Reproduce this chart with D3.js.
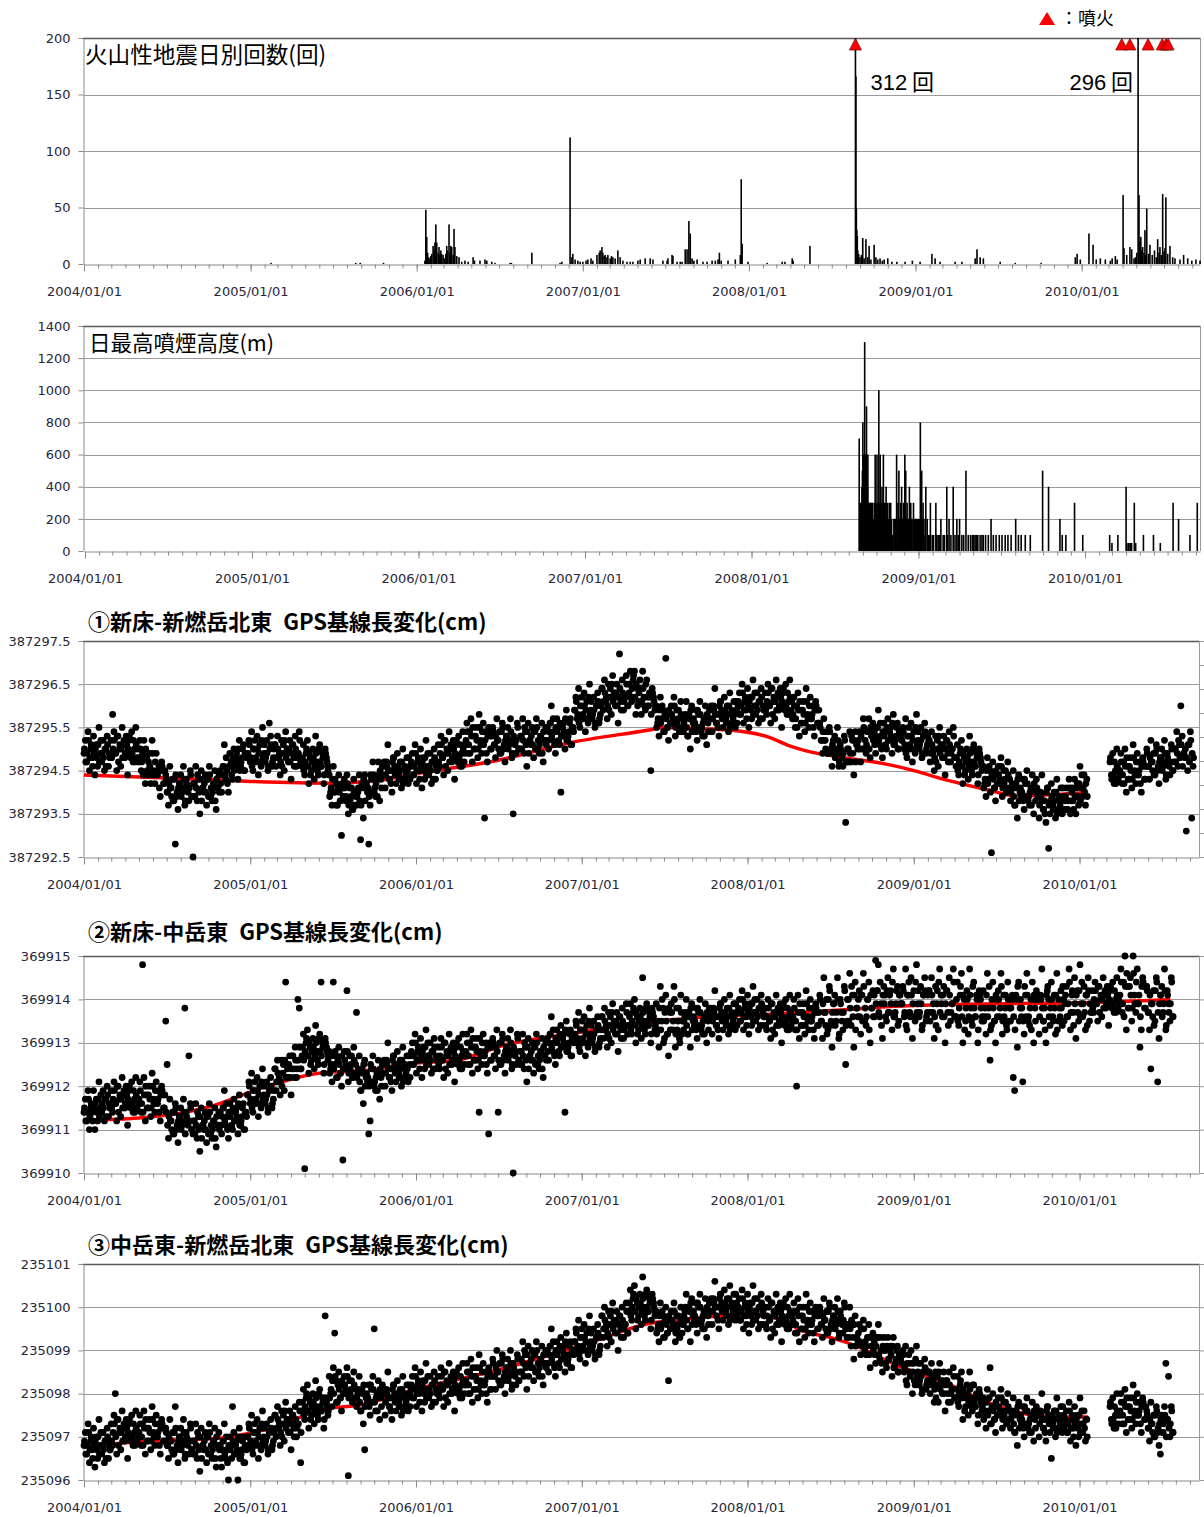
<!DOCTYPE html>
<html>
<head>
<meta charset="utf-8">
<script src="https://cdn.jsdelivr.net/npm/d3@7"></script>
<style>
body { margin: 0; background: #fff; }
.ttl { font-family: "Noto Sans CJK JP", sans-serif; fill: #000; }
</style>
</head>
<body>
<svg id="chart" width="1204" height="1517"></svg>
<script>
// ---- data ----
// volcanic earthquakes per day [date, count]
const quakeDays = [
  ["2005-02-15",1],["2005-08-20",1],["2005-08-30",1],["2005-10-20",1],
  ["2006-01-19",3],["2006-01-21",48],["2006-01-23",24],["2006-01-25",10],["2006-01-27",6],["2006-01-30",5],
  ["2006-02-01",7],["2006-02-03",9],["2006-02-06",16],["2006-02-08",12],["2006-02-10",19],["2006-02-12",35],
  ["2006-02-14",19],["2006-02-17",10],["2006-02-19",15],["2006-02-21",8],["2006-02-23",12],["2006-02-25",9],
  ["2006-02-28",8],["2006-03-03",5],["2006-03-06",9],["2006-03-08",16],["2006-03-10",12],["2006-03-13",35],
  ["2006-03-15",10],["2006-03-17",16],["2006-03-19",15],["2006-03-22",8],["2006-03-24",31],["2006-03-26",15],
  ["2006-03-30",7],["2006-04-04",6],["2006-04-10",2],["2006-04-17",3],["2006-04-24",2],["2006-05-05",6],
  ["2006-05-08",3],["2006-05-20",3],["2006-05-31",4],["2006-06-04",3],["2006-06-15",2],["2006-06-22",1],
  ["2006-07-25",1],["2006-07-28",1],["2006-09-11",10],["2006-11-12",1],["2006-11-16",2],
  ["2006-12-04",112],["2006-12-08",6],["2006-12-10",9],["2006-12-15",4],["2006-12-21",3],["2006-12-26",2],
  ["2007-01-01",2],["2007-01-08",3],["2007-01-12",4],["2007-01-19",5],["2007-01-23",3],["2007-02-01",8],
  ["2007-02-06",10],["2007-02-08",12],["2007-02-12",15],["2007-02-14",10],["2007-02-17",7],["2007-02-19",8],
  ["2007-02-23",6],["2007-02-25",8],["2007-03-02",5],["2007-03-05",7],["2007-03-08",6],["2007-03-13",5],
  ["2007-03-19",12],["2007-03-24",6],["2007-03-30",3],["2007-04-08",2],["2007-04-15",2],["2007-04-21",2],
  ["2007-05-02",3],["2007-05-07",4],["2007-05-18",5],["2007-05-29",5],["2007-06-04",4],["2007-06-26",3],
  ["2007-07-05",3],["2007-07-07",5],["2007-07-16",8],["2007-07-18",7],["2007-07-27",2],["2007-08-03",2],
  ["2007-08-07",2],["2007-08-14",13],["2007-08-18",13],["2007-08-22",38],["2007-08-25",27],["2007-08-29",5],
  ["2007-09-02",3],["2007-09-09",4],["2007-09-22",2],["2007-10-01",2],["2007-10-12",3],["2007-10-19",3],
  ["2007-10-25",4],["2007-10-28",10],["2007-11-01",3],["2007-11-16",3],["2007-12-02",4],["2007-12-13",8],
  ["2007-12-15",75],["2007-12-17",18],["2007-12-30",2],["2008-02-10",1],["2008-03-14",2],["2008-03-20",2],
  ["2008-04-05",5],["2008-04-07",3],["2008-05-14",16],
  ["2008-08-22",312],["2008-08-23",166],["2008-08-24",49],["2008-08-25",30],["2008-08-26",25],["2008-08-27",12],
  ["2008-08-29",9],["2008-09-01",6],["2008-09-04",8],["2008-09-07",23],["2008-09-10",5],["2008-09-14",22],
  ["2008-09-18",6],["2008-09-21",16],["2008-09-25",4],["2008-10-02",17],["2008-10-06",6],["2008-10-10",4],
  ["2008-10-15",5],["2008-10-20",3],["2008-10-24",4],["2008-11-01",5],["2008-11-10",2],["2008-11-21",2],
  ["2008-12-09",2],["2008-12-25",3],["2009-01-11",2],["2009-02-06",9],["2009-02-13",5],["2009-02-24",2],
  ["2009-03-29",2],["2009-04-13",2],["2009-05-12",5],["2009-05-16",13],["2009-05-23",6],["2009-05-30",5],
  ["2009-07-06",2],["2009-08-08",1],["2009-10-04",1],["2009-12-18",6],["2009-12-22",9],["2009-12-29",4],
  ["2010-01-17",27],["2010-01-26",17],["2010-02-02",4],["2010-02-11",5],["2010-02-22",4],["2010-03-05",3],
  ["2010-03-09",5],["2010-03-16",7],["2010-03-20",4],["2010-04-02",61],["2010-04-04",14],["2010-04-10",8],
  ["2010-04-17",15],["2010-04-21",13],["2010-04-26",5],["2010-04-29",6],["2010-05-02",10],["2010-05-05",296],
  ["2010-05-07",61],["2010-05-09",20],["2010-05-11",24],["2010-05-13",12],["2010-05-15",15],["2010-05-18",10],
  ["2010-05-20",30],["2010-05-22",8],["2010-05-24",49],["2010-05-28",9],["2010-05-31",17],["2010-06-05",8],
  ["2010-06-10",12],["2010-06-14",6],["2010-06-17",22],["2010-06-20",10],["2010-06-22",15],["2010-06-25",8],
  ["2010-06-28",62],["2010-07-01",11],["2010-07-03",14],["2010-07-05",59],["2010-07-09",9],["2010-07-14",16],
  ["2010-07-20",6],["2010-07-25",5],["2010-08-05",4],["2010-08-13",8],["2010-08-22",5],["2010-08-31",3],
  ["2010-09-09",4],["2010-09-18",3]
];
const eruptionDates = ["2008-08-22","2010-03-30","2010-04-17","2010-05-27","2010-06-27","2010-07-05","2010-07-10"];
const peakNotes = [["2008-08-22","312"],["2010-05-05","296"]];

// daily maximum plume height (m)
const plumeDays = [
  ["2008-08-24",700],["2008-08-25",300],["2008-08-26",200],["2008-08-27",300],["2008-08-28",200],["2008-08-29",300],
  ["2008-08-30",400],["2008-08-31",500],["2008-09-01",800],["2008-09-02",600],["2008-09-03",300],["2008-09-04",600],
  ["2008-09-05",1300],["2008-09-06",600],["2008-09-07",600],["2008-09-08",300],["2008-09-09",900],["2008-09-10",600],
  ["2008-09-11",400],["2008-09-12",600],["2008-09-13",300],["2008-09-14",200],["2008-09-15",300],["2008-09-17",300],
  ["2008-09-18",300],["2008-09-20",300],["2008-09-22",300],["2008-09-24",200],["2008-09-26",300],["2008-09-28",600],
  ["2008-09-29",300],["2008-09-30",300],["2008-10-02",600],["2008-10-03",200],["2008-10-04",300],["2008-10-06",1000],
  ["2008-10-07",300],["2008-10-09",600],["2008-10-10",200],["2008-10-11",300],["2008-10-13",400],["2008-10-14",300],
  ["2008-10-16",600],["2008-10-17",200],["2008-10-18",300],["2008-10-20",300],["2008-10-22",400],["2008-10-23",200],
  ["2008-10-25",300],["2008-10-27",200],["2008-10-29",300],["2008-10-31",200],["2008-11-01",300],["2008-11-03",200],
  ["2008-11-05",100],["2008-11-08",200],["2008-11-10",200],["2008-11-12",200],["2008-11-14",600],["2008-11-15",200],
  ["2008-11-17",300],["2008-11-19",500],["2008-11-20",200],["2008-11-21",200],["2008-11-23",300],["2008-11-25",400],
  ["2008-11-27",200],["2008-11-29",300],["2008-12-01",200],["2008-12-02",600],["2008-12-04",500],["2008-12-05",200],
  ["2008-12-07",300],["2008-12-09",200],["2008-12-10",200],["2008-12-12",400],["2008-12-13",200],["2008-12-15",300],
  ["2008-12-16",200],["2008-12-18",200],["2008-12-21",300],["2008-12-22",200],["2008-12-24",200],["2008-12-26",200],
  ["2008-12-28",200],["2008-12-30",200],["2009-01-01",200],["2009-01-03",200],["2009-01-05",800],["2009-01-08",500],
  ["2009-01-09",200],["2009-01-11",300],["2009-01-13",200],["2009-01-15",100],["2009-01-17",400],["2009-01-20",200],
  ["2009-01-23",100],["2009-01-25",100],["2009-01-27",300],["2009-01-31",100],["2009-02-03",100],["2009-02-08",300],
  ["2009-02-10",100],["2009-02-13",100],["2009-02-16",100],["2009-02-19",200],["2009-02-24",100],["2009-02-27",100],
  ["2009-03-04",400],["2009-03-06",100],["2009-03-09",200],["2009-03-13",100],["2009-03-18",400],["2009-03-22",100],
  ["2009-03-26",200],["2009-03-29",100],["2009-04-01",200],["2009-04-06",100],["2009-04-10",100],["2009-04-15",500],
  ["2009-04-20",100],["2009-04-25",100],["2009-04-29",100],["2009-05-02",100],["2009-05-05",100],["2009-05-08",100],
  ["2009-05-11",100],["2009-05-16",100],["2009-05-20",100],["2009-05-23",100],["2009-05-28",100],["2009-06-03",100],
  ["2009-06-09",200],["2009-06-14",100],["2009-06-20",100],["2009-06-27",100],["2009-07-03",100],["2009-07-10",100],
  ["2009-07-16",100],["2009-07-23",100],["2009-08-02",200],["2009-08-08",100],["2009-08-14",100],["2009-08-23",100],
  ["2009-09-03",100],["2009-09-30",500],["2009-10-13",400],["2009-11-07",200],["2009-11-12",100],["2009-11-20",100],
  ["2009-12-09",300],["2009-12-27",100],["2010-02-24",100],["2010-03-01",50],["2010-03-14",100],["2010-04-01",400],
  ["2010-04-03",50],["2010-04-07",50],["2010-04-10",50],["2010-04-13",50],["2010-04-19",300],["2010-04-22",50],
  ["2010-05-09",100],["2010-05-31",100],["2010-06-15",50],["2010-07-13",300],["2010-07-25",200],["2010-08-19",100],
  ["2010-09-04",300]
];

// GPS baselines, in mm above each axis minimum (null = no data).
// "A" readings every 3 days from 2004-01-01, "B" readings every 3 days from 2004-01-02.
const gpsStepDays = 3;
const gpsStartA = "2004-01-01";
const gpsStartB = "2004-01-02";

const gps1Base = 387292.5;
const gps1MmA = [
  24,27,22,29,20,25,23,28,19,26,21,30,24,22,27,20,25,28,21,23,
  27,33,29,24,20,28,25,21,30,26,23,28,19,27,24,29,22,25,30,23,
  22,27,20,24,27,17,23,19,24,17,27,20,17,24,19,21,14,22,20,17,
  19,15,12,21,16,18,13,3,14,11,17,19,15,21,12,18,16,13,20,14,
  0,17,21,13,18,10,20,16,15,19,12,18,21,14,13,17,20,11,16,19,
  20,15,21,26,18,20,15,24,22,18,25,21,24,18,27,21,23,26,20,24,
  24,27,22,29,20,25,23,28,19,26,21,30,24,22,27,20,31,28,21,23,
  26,21,28,23,19,27,24,20,29,25,22,27,18,26,23,28,21,24,29,22,
  21,26,19,24,27,17,23,20,25,18,28,22,19,26,21,24,17,25,23,20,
  19,15,12,21,15,17,12,19,13,5,16,18,13,19,10,16,14,11,18,12,
  12,15,19,4,17,9,19,16,15,3,12,18,22,15,14,18,22,13,18,21,
  21,16,22,26,18,20,15,23,21,17,24,19,22,16,25,18,20,23,17,21,
  21,24,19,26,17,22,20,25,16,23,18,27,21,19,24,17,22,25,18,20,
  26,21,28,23,19,27,24,20,29,25,22,27,18,26,23,28,21,24,29,22,
  26,31,24,29,32,22,28,25,30,23,33,27,24,31,9,29,22,30,28,25,
  30,26,23,32,27,29,24,31,25,22,28,30,26,32,23,10,27,24,31,25,
  25,28,32,24,29,21,31,27,26,30,23,29,32,25,24,28,31,22,27,30,
  30,25,31,35,27,29,24,32,30,26,15,28,31,25,34,27,29,32,26,30,
  34,37,32,39,30,35,33,38,29,36,31,40,34,32,37,30,35,38,31,33,
  39,34,41,36,32,40,37,33,42,38,35,40,31,47,36,41,34,37,42,35,
  38,43,36,41,43,33,39,36,41,33,43,37,34,41,35,38,20,39,37,34,
  35,31,28,37,32,34,29,46,30,27,33,35,31,37,28,34,32,29,36,30,
  29,32,36,28,33,25,35,31,30,34,27,33,36,29,28,32,35,26,31,34,
  34,29,35,39,31,33,28,36,34,30,37,32,35,29,38,31,33,36,30,34,
  35,38,33,40,31,36,34,39,30,37,32,41,35,33,38,31,36,39,32,34,
  38,33,40,35,31,39,36,32,41,37,34,39,30,38,35,40,33,36,41,34,
  32,37,30,35,38,28,34,31,36,29,39,33,30,37,32,35,28,36,34,31,
  31,27,24,32,27,29,24,30,24,21,27,28,24,30,21,26,24,21,28,8,
  22,25,29,22,27,19,29,26,25,29,22,29,32,25,24,29,32,23,28,31,
  29,24,30,34,26,28,23,31,29,25,32,27,30,24,33,26,28,31,25,29,
  27,30,25,32,23,28,26,31,22,29,24,33,27,25,30,23,28,31,24,26,
  27,22,29,24,20,28,25,21,30,26,23,28,19,27,24,29,22,25,30,23,
  21,26,19,24,27,17,23,20,25,18,28,22,19,26,21,24,17,25,23,20,
  21,17,14,23,18,20,1,22,16,13,19,21,17,23,14,20,18,15,22,16,
  13,16,20,12,17,9,19,15,14,18,11,17,20,13,12,16,19,10,15,18,
  14,9,15,19,11,13,8,16,2,10,17,12,15,9,18,11,13,16,10,14,
  13,16,11,18,10,15,13,18,10,17,12,21,16,14,19,12,18,null,null,null,
  null,null,null,null,null,null,null,null,null,null,null,null,null,22,19,24,17,20,25,18,
  19,24,17,22,25,15,21,18,23,16,26,20,17,24,19,22,15,23,21,18,
  25,21,18,27,22,24,19,26,20,17,23,25,21,27,18,24,22,19,26,20,
  22,25,29,21,26,35,28,24,23,6,20,26,29,9,21
];
const gps1MmB = [
  25,22,24,27,23,26,21,24,25,23,26,22,27,24,23,25,21,26,24,23,
  23,25,27,24,28,22,26,25,23,27,24,26,25,28,23,24,27,22,26,25,
  23,25,22,19,23,25,20,22,21,19,24,19,22,19,20,16,20,21,17,20,
  18,15,17,16,14,13,18,19,15,16,17,14,16,18,13,17,15,16,19,14,
  17,14,16,19,15,18,13,16,17,15,18,14,19,16,15,17,13,18,16,15,
  17,19,21,19,23,17,21,21,19,23,20,23,22,25,20,22,25,20,24,23,
  24,26,23,21,25,27,22,25,24,22,27,23,26,23,24,21,25,26,22,25,
  26,23,25,24,22,21,26,27,23,24,25,22,24,26,21,25,23,24,27,22,
  23,20,22,25,21,24,19,22,23,21,24,20,25,22,21,23,19,24,22,21,
  14,16,18,15,18,12,16,15,13,17,14,16,14,17,12,13,16,11,15,14,
  14,16,13,12,16,18,13,17,16,14,19,15,19,16,17,14,19,20,16,19,
  22,19,21,20,18,17,22,23,19,20,21,18,20,22,17,21,19,20,23,18,
  22,19,21,24,20,23,18,21,22,20,23,19,24,21,20,22,18,23,21,20,
  22,24,26,23,27,21,25,24,22,26,23,25,24,27,22,23,26,21,25,24,
  27,29,26,24,28,30,25,28,27,25,30,26,29,26,27,24,28,29,25,28,
  29,26,28,27,25,24,29,30,26,27,28,25,27,29,24,28,26,27,30,25,
  28,25,27,30,26,29,24,27,28,26,29,25,30,27,26,28,24,29,27,26,
  27,29,31,28,32,26,30,29,27,31,28,30,29,32,27,28,31,26,30,29,
  34,36,33,31,35,37,32,35,34,32,37,33,36,33,34,31,35,36,32,35,
  39,36,38,37,35,34,39,40,36,37,38,35,37,39,34,38,36,37,40,35,
  40,37,39,42,37,40,35,38,39,36,39,35,40,37,35,37,33,38,36,35,
  30,32,34,31,35,29,33,32,30,34,31,33,32,35,30,31,34,29,33,32,
  31,33,30,28,32,34,29,32,31,29,34,30,33,30,31,28,32,33,29,32,
  35,32,34,33,31,30,35,36,32,33,34,31,33,35,30,34,32,33,36,31,
  36,33,35,38,34,37,32,35,36,34,37,33,38,35,34,36,32,37,35,34,
  34,36,38,35,39,33,37,36,34,38,35,37,36,39,34,35,38,33,37,36,
  33,35,32,30,34,36,31,34,33,31,36,32,35,32,33,30,34,35,31,34,
  30,27,29,27,25,24,29,29,25,26,27,23,25,27,22,25,23,24,27,22,
  25,22,24,28,24,27,22,26,27,25,28,25,30,27,26,29,25,30,28,27,
  26,28,30,27,31,25,29,28,26,30,27,29,28,31,26,27,30,25,29,28,
  27,29,26,24,28,30,25,28,27,25,30,26,29,26,27,24,28,29,25,28,
  27,24,26,25,23,22,27,28,24,25,26,23,25,27,22,26,24,25,28,23,
  23,20,22,25,21,24,19,22,23,21,24,20,25,22,21,23,19,24,22,21,
  16,18,20,17,21,15,19,18,16,20,17,19,18,21,16,17,20,15,19,18,
  15,17,14,12,16,18,13,16,15,13,18,14,17,14,15,12,16,17,13,16,
  15,12,14,13,11,10,15,16,12,13,14,11,13,15,10,14,12,13,16,11,
  14,11,13,16,13,16,11,14,16,14,17,13,19,16,15,17,14,null,null,null,
  null,null,null,null,null,null,null,null,null,null,null,null,null,23,18,19,22,17,21,20,
  20,22,19,17,21,23,18,21,20,18,23,19,22,19,20,17,21,22,18,21,
  24,21,23,22,20,19,24,25,21,22,23,20,22,24,19,23,21,22,25,20,
  25,22,24,27,23,26,21,24,25,23,26,22,27,24,23
];
const trend1 = [["2004-01-01",19],["2004-07-01",18.3],["2005-01-01",17.5],["2005-07-01",17.1],["2005-10-15",17.8],
  ["2006-01-08",19.4],["2006-07-01",22.4],["2006-12-03",26.4],["2007-05-29",29.4],["2007-07-01",30],["2007-09-15",29.7],
  ["2007-11-20",29.4],["2008-02-15",27.8],["2008-04-01",25.8],["2008-05-01",24.8],["2008-08-01",23],["2008-11-01",21.5],
  ["2009-01-01",20],["2009-03-15",17.8],["2009-06-15",15.5],["2009-08-15",14.1],["2009-11-01",14.4],["2010-01-20",15]];

const gps2Base = 369910;
const gps2MmA = [
  14,17,12,19,10,15,14,19,10,17,12,21,15,14,19,12,17,20,13,15,
  19,14,21,16,12,20,17,13,22,18,15,20,11,19,16,21,14,17,22,15,
  16,21,14,48,22,12,18,15,20,13,23,17,14,21,16,19,12,20,18,15,
  35,25,8,17,12,14,9,16,10,7,13,15,11,17,38,14,12,27,16,10,
  9,12,16,8,13,5,15,11,10,14,7,13,16,9,8,12,15,6,11,14,
  14,9,15,19,11,13,8,16,14,10,17,12,15,9,18,11,13,16,10,14,
  18,21,16,23,14,19,17,22,13,20,15,24,18,16,21,14,19,22,15,17,
  24,19,26,21,18,26,23,19,44,25,22,27,18,27,24,29,22,40,38,24,
  27,32,1,30,33,23,29,26,31,24,34,28,25,32,44,30,23,31,29,26,
  28,24,21,44,25,27,22,29,23,20,3,28,24,42,21,27,25,22,29,23,
  37,23,27,19,24,16,26,22,21,9,12,24,27,20,19,23,26,17,22,25,
  25,20,26,30,22,24,19,27,25,21,28,23,26,20,29,22,24,27,21,25,
  27,30,25,32,23,28,26,31,22,29,24,33,27,25,30,23,28,31,24,26,
  29,24,31,26,22,30,27,23,32,28,25,30,21,29,26,31,24,27,32,25,
  27,32,25,30,33,23,29,26,31,24,14,28,25,32,27,30,23,9,29,26,
  31,27,24,33,14,30,25,32,26,23,29,31,27,33,24,0,28,25,32,26,
  25,28,32,24,29,21,31,27,26,30,23,29,32,25,24,28,31,22,27,30,
  31,26,32,36,28,30,25,33,31,27,34,29,32,14,35,28,30,33,27,31,
  32,35,30,37,28,33,31,36,27,34,29,38,32,30,35,28,33,36,29,31,
  36,31,38,33,29,37,34,30,39,35,32,37,28,36,33,38,31,34,39,32,
  34,39,32,37,40,30,36,33,38,31,45,35,32,39,34,37,30,38,36,33,
  39,33,29,43,35,38,31,41,32,27,37,39,33,43,29,38,35,31,41,32,
  33,36,40,32,37,29,39,35,34,38,31,37,40,33,32,36,39,30,35,38,
  37,32,38,42,34,36,31,39,37,33,40,35,38,32,41,34,36,39,33,37,
  37,40,35,42,33,38,36,41,32,39,34,43,37,35,40,33,38,41,34,36,
  38,33,40,35,31,39,36,32,41,37,34,39,30,38,35,40,33,36,41,34,
  35,40,33,20,41,31,37,34,39,32,42,36,33,40,35,38,31,39,37,34,
  41,35,31,45,37,40,33,43,34,29,39,41,35,45,31,40,37,33,43,25,
  35,40,46,34,41,29,44,38,36,42,32,41,46,35,34,40,44,30,38,42,
  41,49,42,48,36,39,31,43,41,35,45,37,42,33,47,36,39,43,35,41,
  39,43,36,47,33,41,37,45,31,42,35,48,39,36,43,33,41,45,35,37,
  42,35,45,37,31,43,39,33,47,41,36,43,30,42,37,45,35,39,47,36,
  36,44,34,41,46,30,40,35,42,32,47,38,34,44,36,41,30,42,40,35,
  42,36,32,46,38,26,34,44,35,30,40,42,36,46,32,41,38,34,44,35,
  35,40,22,19,41,29,44,38,36,21,32,41,46,35,34,40,44,30,38,42,
  40,32,41,47,35,38,30,42,40,34,44,36,41,32,46,35,38,42,34,40,
  39,43,36,47,33,41,37,45,31,42,35,48,39,36,43,33,41,45,35,37,
  42,37,44,39,35,43,40,36,45,41,38,43,34,42,39,44,37,40,45,38,
  39,47,37,44,50,33,43,38,45,35,50,41,37,47,39,29,33,45,43,38,
  43,37,33,24,39,42,35,45,21,31,41,43,37,47,33,42,39,35,45,36
];
const gps2MmB = [
  15,12,14,17,13,16,12,15,16,14,17,13,18,16,15,17,13,18,16,15,
  15,17,19,16,20,14,18,17,15,19,16,18,17,20,15,16,19,14,18,17,
  17,19,16,14,18,20,15,18,17,15,20,16,19,16,17,14,18,19,15,18,
  14,11,13,12,10,9,14,15,11,12,13,10,12,14,9,13,11,12,15,10,
  12,9,11,14,10,13,8,11,12,10,13,9,14,11,10,12,8,13,11,10,
  11,13,15,12,16,10,14,13,11,15,12,14,13,16,11,12,15,10,14,13,
  18,20,17,15,19,21,16,19,18,16,21,17,20,17,18,15,19,20,16,19,
  24,21,23,22,21,20,25,26,22,24,25,22,24,27,22,26,24,26,29,24,
  29,26,28,31,27,30,25,28,29,27,30,26,31,28,27,29,25,30,28,27,
  23,25,27,24,28,22,26,25,23,27,24,26,25,28,23,24,27,22,26,25,
  22,24,21,19,23,25,20,23,22,20,25,21,24,21,22,19,23,24,20,23,
  26,23,25,24,22,21,26,27,23,24,25,22,24,26,21,25,23,24,27,22,
  28,25,27,30,26,29,24,27,28,26,29,25,30,27,26,28,24,29,27,26,
  25,27,29,26,30,24,28,27,25,29,26,28,27,30,25,26,29,24,28,27,
  28,30,27,25,29,31,26,29,28,26,31,27,30,27,28,25,29,30,26,29,
  30,27,29,28,26,25,30,31,27,28,29,26,28,30,25,29,27,28,31,26,
  28,25,27,30,26,29,24,27,28,26,29,25,30,27,26,28,24,29,27,26,
  28,30,32,29,33,27,31,30,28,32,29,31,30,33,28,29,32,27,31,30,
  32,34,31,29,33,35,30,33,32,30,35,31,34,31,32,29,33,34,30,33,
  36,33,35,34,32,31,36,37,33,34,35,32,34,36,31,35,33,34,37,32,
  36,33,35,38,34,37,32,35,36,34,37,33,38,35,34,36,32,37,35,34,
  32,35,38,33,40,30,37,35,32,38,33,37,35,40,32,33,38,30,37,35,
  35,37,34,32,36,38,33,36,35,33,38,34,37,34,35,32,36,37,33,36,
  38,35,37,36,34,33,38,39,35,36,37,34,36,38,33,37,35,36,39,34,
  38,35,37,40,36,39,34,37,38,36,39,35,40,37,36,38,34,39,37,36,
  34,36,38,35,39,33,37,36,34,38,35,37,36,39,34,35,38,33,37,36,
  36,38,35,33,37,39,34,37,36,34,39,35,38,35,36,33,37,38,34,37,
  40,35,39,37,34,32,40,42,35,37,39,34,37,40,32,39,35,37,42,34,
  40,35,38,43,36,41,33,38,40,36,41,35,43,38,36,40,33,41,38,36,
  36,39,42,37,44,34,41,39,36,42,37,41,39,44,36,37,42,34,41,39,
  39,42,37,34,41,44,36,41,39,36,44,37,42,37,39,34,41,42,36,41,
  42,37,41,39,36,34,42,44,37,39,41,36,39,42,34,41,37,39,44,36,
  40,35,38,43,36,41,33,38,40,36,41,35,43,38,36,40,33,41,38,36,
  35,38,41,36,43,33,40,38,35,41,36,40,38,43,35,36,41,33,40,38,
  38,41,36,33,40,43,35,40,38,35,43,36,41,36,38,33,40,41,35,40,
  41,36,40,38,35,33,41,43,36,38,40,35,38,41,33,40,36,38,43,35,
  41,36,39,44,37,42,34,39,41,37,42,36,44,39,37,41,34,42,39,37,
  38,40,42,39,43,37,41,40,38,42,39,41,40,43,38,39,42,37,41,40,
  41,44,39,36,43,46,38,43,41,38,46,39,44,39,41,36,43,44,38,43,
  42,37,41,39,36,34,42,44,37,39,41,36,39,42,34,41,37,39,44,36
];
const trend2 = [["2004-01-01",12.2],["2004-05-01",12.7],["2004-08-01",13.8],["2004-10-01",15.2],["2005-02-01",19.8],
  ["2005-06-01",23],["2005-09-15",23.7],["2006-01-01",25.3],["2006-04-01",26],["2006-07-15",29.5],["2007-01-01",32.5],
  ["2007-03-25",34],["2007-09-01",35.7],["2008-04-01",36.8],["2008-08-01",37.6],["2008-11-01",38.3],["2009-07-01",39],
  ["2010-01-01",39.2],["2010-07-20",40]];

const gps3Base = 235096;
const gps3MmA = [
  8,11,6,13,4,9,7,12,3,10,5,14,8,6,11,4,9,12,5,7,
  13,8,15,20,6,14,11,7,16,12,9,14,5,13,10,15,8,11,16,9,
  10,15,8,13,16,6,12,9,14,7,17,11,8,15,10,13,6,14,12,9,
  12,8,5,14,9,11,6,17,7,4,10,12,8,14,5,11,9,6,13,7,
  6,9,13,5,10,2,12,8,7,11,4,10,13,6,5,9,12,3,8,11,
  8,3,9,13,5,7,0,10,8,17,11,6,9,0,12,5,7,10,4,8,
  10,13,8,15,6,11,9,14,5,12,7,16,10,8,13,6,11,14,7,9,
  15,10,17,12,8,16,13,9,18,14,11,16,7,15,12,17,10,13,18,4,
  16,21,14,19,22,12,18,15,20,13,23,17,14,21,16,19,12,38,18,15,
  24,20,17,26,34,23,18,25,19,16,22,24,20,26,1,23,21,18,25,19,
  17,20,24,16,21,13,7,19,18,22,15,21,24,35,16,20,23,14,19,22,
  20,15,21,25,17,19,14,22,20,16,23,18,21,15,24,17,19,22,16,20,
  21,24,19,26,17,22,20,25,16,23,18,27,21,19,24,17,22,25,18,20,
  24,19,26,21,17,25,22,18,27,23,20,25,16,24,21,26,19,22,27,20,
  22,27,20,25,28,18,24,21,26,19,29,23,20,27,22,25,18,26,24,21,
  28,24,21,30,25,27,22,29,23,20,26,28,24,30,21,27,25,22,29,23,
  25,28,32,24,29,21,31,27,26,30,23,29,32,25,24,28,31,22,27,30,
  30,25,31,35,27,29,24,32,30,26,33,28,31,25,34,27,29,32,26,30,
  32,35,30,37,28,33,31,36,27,34,29,38,32,30,35,28,33,36,29,31,
  38,33,40,35,31,39,36,32,41,37,34,39,30,38,35,40,33,36,41,34,
  39,44,37,42,45,35,41,38,43,36,47,40,37,44,39,42,35,43,41,38,
  39,35,32,41,36,38,33,40,34,23,37,39,35,41,32,38,36,33,40,34,
  36,39,43,35,40,32,42,38,37,41,34,40,43,36,35,39,42,33,38,41,
  41,36,42,46,38,40,35,43,41,37,44,39,42,36,45,38,40,43,37,41,
  39,42,37,44,35,40,38,43,34,41,36,45,39,37,42,35,40,43,36,38,
  40,35,42,37,33,41,38,34,43,39,36,41,32,40,37,42,35,38,43,36,
  36,41,34,39,42,32,38,35,40,33,43,37,34,41,36,39,32,40,38,35,
  40,36,33,42,37,39,34,41,35,32,38,40,36,42,33,39,37,34,41,35,
  33,36,40,31,36,28,38,33,32,36,29,35,37,30,29,33,36,26,31,34,
  32,27,33,36,28,30,25,33,30,26,33,28,31,24,33,26,28,31,25,29,
  27,30,25,31,22,27,25,30,20,27,22,31,25,22,27,20,25,28,21,23,
  25,20,27,22,18,25,22,18,27,23,20,25,16,23,20,25,18,21,26,19,
  19,24,17,22,25,14,20,17,22,15,25,19,16,22,17,20,13,21,19,16,
  19,15,12,21,16,26,13,20,14,11,17,19,15,21,12,18,16,13,20,14,
  12,15,19,11,16,8,18,14,13,17,10,16,19,12,11,15,18,9,14,17,
  15,10,16,20,12,14,9,17,15,11,5,13,16,10,19,12,14,17,11,15,
  13,16,11,18,9,14,12,17,8,15,10,19,13,11,16,9,14,null,null,null,
  null,null,null,null,null,null,null,null,null,null,null,null,null,17,14,19,12,15,20,13,
  15,20,13,18,21,11,17,14,19,12,22,16,13,20,15,18,11,19,17,14,
  16,12,9,18,13,15,10,17,11,8,6,15,11,17,27,14,24,10,17,11
];
const gps3MmB = [
  9,6,8,11,7,10,5,8,9,7,10,6,11,8,7,9,5,10,8,7,
  9,11,13,10,14,8,12,11,9,13,10,12,11,14,9,10,13,8,12,11,
  11,13,10,8,12,14,9,12,11,9,14,10,13,10,11,8,12,13,9,12,
  11,8,10,9,7,6,11,12,8,9,10,7,9,11,6,10,8,9,12,7,
  9,6,8,11,7,10,5,8,9,7,10,6,11,8,7,9,5,10,8,7,
  5,7,9,6,10,4,8,7,5,9,6,8,7,10,5,6,9,4,8,7,
  10,12,9,7,11,13,8,11,10,8,13,9,12,9,10,7,11,12,8,11,
  15,12,14,13,11,10,15,16,12,13,14,11,13,15,10,14,12,13,16,11,
  18,15,17,20,16,19,14,17,18,16,19,15,20,17,16,18,14,19,17,16,
  19,21,23,20,24,18,22,21,19,23,20,22,21,24,19,20,23,18,22,21,
  19,21,18,16,20,22,17,20,19,17,22,18,21,18,19,16,20,21,17,20,
  21,18,20,19,17,16,21,22,18,19,20,17,19,21,16,20,18,19,22,17,
  22,19,21,24,20,23,18,21,22,20,23,19,24,21,20,22,18,23,21,20,
  20,22,24,21,25,19,23,22,20,24,21,23,22,25,20,21,24,19,23,22,
  23,25,22,20,24,26,21,24,23,21,26,22,25,22,23,20,24,25,21,24,
  27,24,26,25,23,22,27,28,24,25,26,23,25,27,22,26,24,25,28,23,
  28,25,27,30,26,29,24,27,28,26,29,25,30,27,26,28,24,29,27,26,
  27,29,31,28,32,26,30,29,27,31,28,30,29,32,27,28,31,26,30,29,
  32,34,31,29,33,35,30,33,32,30,35,31,34,31,32,29,33,34,30,33,
  38,35,37,36,34,33,38,39,35,36,37,34,36,38,33,37,35,36,39,34,
  41,38,40,43,39,42,37,40,41,39,42,38,43,40,39,41,37,42,40,39,
  34,36,38,35,39,33,37,36,34,38,35,37,36,39,34,35,38,33,37,36,
  38,40,37,35,39,41,36,39,38,36,41,37,40,37,38,35,39,40,36,39,
  42,39,41,40,38,37,42,43,39,40,41,38,40,42,37,41,39,40,43,38,
  40,37,39,42,38,41,36,39,40,38,41,37,42,39,38,40,36,41,39,38,
  36,38,40,37,41,35,39,38,36,40,37,39,38,41,36,37,40,35,39,38,
  37,39,36,34,38,40,35,38,37,35,40,36,39,36,37,34,38,39,35,38,
  39,36,38,37,35,34,39,40,36,37,38,35,37,39,34,38,36,37,40,35,
  36,33,35,37,33,36,31,33,34,32,35,31,35,32,31,33,29,33,31,30,
  29,31,33,29,33,27,31,30,27,31,28,30,29,31,26,27,30,25,29,28,
  27,29,26,23,27,29,24,27,25,23,28,24,27,23,24,21,25,26,22,25,
  25,22,24,23,21,19,24,25,21,22,23,20,22,23,18,22,20,21,24,19,
  21,18,20,23,19,21,16,19,20,18,21,17,22,18,17,19,15,20,18,17,
  14,16,18,15,19,13,17,16,14,18,15,17,16,19,14,15,18,13,17,16,
  14,16,13,11,15,17,12,15,14,12,17,13,16,13,14,11,15,16,12,15,
  16,13,15,14,12,11,16,17,13,14,15,12,14,16,11,15,13,14,17,12,
  14,11,13,16,12,15,10,13,14,12,15,11,16,13,12,14,10,null,null,null,
  null,null,null,null,null,null,null,null,null,null,null,null,null,18,13,14,17,12,16,15,
  16,18,15,13,17,19,14,17,16,14,19,15,18,15,16,13,17,18,14,17,
  15,12,14,13,11,10,15,16,12,13,14,11,13,15,10,14,12,13,16,11
];
const trend3 = [["2004-01-01",7.6],["2004-04-01",8.6],["2004-08-01",9.3],["2004-11-01",9.7],["2005-01-01",10.9],
  ["2005-03-01",12.3],["2005-06-01",16.2],["2005-09-01",17.4],["2005-12-01",20.1],["2006-01-01",21],["2006-07-01",25.5],
  ["2007-01-01",31.2],["2007-06-01",36.3],["2007-09-15",37.5],["2008-01-01",38.5],["2008-03-15",37],["2008-05-01",34.5],
  ["2008-07-01",33],["2008-09-01",30.8],["2008-11-15",27],["2009-01-01",25],["2009-03-01",23],["2009-06-01",18.5],
  ["2009-08-01",16.2],["2009-11-01",14.6],["2010-01-20",14.6]];

// ---- drawing ----
const svg = d3.select("#chart");
const parse = d3.timeParse("%Y-%m-%d");
const tickFont = '"DejaVu Sans", sans-serif';

function drawFrame(p) {
  const x = d3.scaleTime().domain([parse("2004-01-01"), parse(p.end)]).range([p.x0, p.x1]);
  const y = d3.scaleLinear().domain(p.dom).range([p.bottom, p.top]);
  const g = svg.append("g");

  // horizontal grid
  g.append("g").selectAll("line")
    .data(p.ticks.slice(1, -1))
    .join("line")
    .attr("x1", 84).attr("x2", p.x1)
    .attr("y1", d => Math.round(y(d)) + 0.5).attr("y2", d => Math.round(y(d)) + 0.5)
    .attr("stroke", "#9a9a9a");

  // top + right border
  g.append("line").attr("x1", 83).attr("x2", p.x1 + 0.5)
    .attr("y1", p.top + 0.5).attr("y2", p.top + 0.5)
    .attr("stroke", "#5a5a5a").attr("stroke-width", 1.3);
  g.append("line").attr("x1", p.x1 + 0.5).attr("x2", p.x1 + 0.5)
    .attr("y1", p.top).attr("y2", p.bottom)
    .attr("stroke", "#9a9a9a");

  if (p.rightTicks) {
    const r = d3.scaleLinear().domain([0, p.rightTicks]).range([p.bottom, p.top]);
    const ra = g.append("g").attr("transform", `translate(${p.x1 + 0.5},0)`)
      .call(d3.axisRight(r).ticks(p.rightTicks).tickSize(5).tickSizeOuter(0).tickFormat(""));
    ra.select(".domain").remove();
    ra.selectAll(".tick line").attr("stroke", "#9a9a9a");
  }

  // y axis
  const ya = g.append("g").attr("transform", "translate(83.5,0)")
    .call(d3.axisLeft(y).tickValues(p.ticks).tickSize(5).tickSizeOuter(0).tickPadding(8).tickFormat(p.fmt));
  ya.select(".domain").attr("stroke", "#8a8a8a");
  ya.selectAll(".tick line").attr("stroke", "#8a8a8a");
  ya.selectAll("text").attr("font-size", 13).attr("font-family", tickFont).attr("fill", "#26263a");

  // x axis: months (minor) and years (labelled)
  const xm = g.append("g").attr("transform", `translate(0,${p.bottom + 0.5})`)
    .call(d3.axisBottom(x).ticks(d3.timeMonth.every(1)).tickSize(4).tickSizeOuter(0).tickFormat(""));
  xm.select(".domain").attr("stroke", "#8a8a8a");
  xm.selectAll(".tick line").attr("stroke", "#8a8a8a");
  const xy = g.append("g").attr("transform", `translate(0,${p.bottom + 0.5})`)
    .call(d3.axisBottom(x).ticks(d3.timeYear.every(1)).tickSize(7).tickSizeOuter(0).tickPadding(15)
      .tickFormat(d3.timeFormat("%Y/%m/%d")));
  xy.select(".domain").remove();
  xy.selectAll(".tick line").attr("stroke", "#8a8a8a");
  xy.selectAll("text").attr("font-size", 13).attr("font-family", tickFont).attr("fill", "#26263a");

  return { x, y, g };
}

function title(txt, x, y, size, weight) {
  svg.append("text").attr("class", "ttl").attr("x", x).attr("y", y)
    .attr("font-size", size).attr("font-weight", weight || "normal").text(txt);
}

// panel 1: earthquakes
const p1 = { top: 38, bottom: 264, x0: 84, x1: 1200, end: "2010-09-18", dom: [0, 200],
  ticks: [0, 50, 100, 150, 200], fmt: d3.format("d") };
{
  const { x, y, g } = drawFrame(p1);
  g.append("g").selectAll("rect").data(quakeDays).join("rect")
    .attr("x", d => x(parse(d[0])) - 0.8).attr("width", 1.6)
    .attr("y", d => y(Math.min(d[1], 200)))
    .attr("height", d => p1.bottom - y(Math.min(d[1], 200)))
    .attr("fill", "#000");
  g.append("g").selectAll("path").data(eruptionDates).join("path")
    .attr("transform", d => `translate(${x(parse(d))},${p1.top})`)
    .attr("d", "M0,0.5L6,12L-6,12Z")
    .attr("fill", "#ff0000").attr("stroke", "#700").attr("stroke-width", 0.7);
  const notes = g.append("g").selectAll("text").data(peakNotes).join("text")
    .attr("y", 90).attr("font-size", 22)
    .attr("x", (d, i) => i === 0 ? x(parse(d[0])) + 15 : x(parse(d[0])) - 5)
    .attr("text-anchor", (d, i) => i === 0 ? "start" : "end");
  notes.append("tspan").attr("font-family", '"Liberation Sans Narrow", "Liberation Sans", sans-serif').text(d => d[1]);
  notes.append("tspan").attr("class", "ttl").text(" 回");
  title("火山性地震日別回数(回)", 85, 63, 22.6);

  // legend
  svg.append("path").attr("transform", "translate(1047,12)")
    .attr("d", "M0,0L8,13L-8,13Z").attr("fill", "#ff0000");
  svg.append("text").attr("class", "ttl").attr("x", 1060).attr("y", 25).attr("font-size", 18).text("：噴火");
}

// panel 2: plume height
const p2 = { top: 326, bottom: 551, x0: 85, x1: 1200, end: "2010-09-10", dom: [0, 1400],
  ticks: d3.range(0, 1401, 200), fmt: d3.format("d") };
{
  const { x, y, g } = drawFrame(p2);
  g.append("g").selectAll("rect").data(plumeDays).join("rect")
    .attr("x", d => x(parse(d[0])) - 0.8).attr("width", 1.6)
    .attr("y", d => y(d[1])).attr("height", d => p2.bottom - y(d[1]))
    .attr("fill", "#000");
  title("日最高噴煙高度(m)", 89, 351, 21.5);
}

// GPS panels
function readings(start, mm, base) {
  const t0 = parse(start);
  return mm.map((v, i) => ({ date: d3.timeDay.offset(t0, i * gpsStepDays), v }))
    .filter(d => d.v !== null)
    .map(d => ({ date: d.date, v: base + d.v / 10 }));
}

function drawGps(p, base, mmA, mmB, trend, label, ty) {
  const { x, y, g } = drawFrame(p);
  const pts = readings(gpsStartA, mmA, base).concat(readings(gpsStartB, mmB, base));
  const line = d3.line().x(d => x(parse(d[0]))).y(d => y(base + d[1] / 10)).curve(d3.curveMonotoneX);
  g.append("path").datum(trend).attr("d", line)
    .attr("fill", "none").attr("stroke", "#ff0000").attr("stroke-width", 3.5);
  g.append("g").selectAll("circle").data(pts).join("circle")
    .attr("cx", d => x(d.date)).attr("cy", d => y(d.v)).attr("r", 3.4)
    .attr("fill", "#000");
  title(label, 88, ty, 22, "bold");
}

const gpsTicks = k => d3.range(6).map(i => k + i);
drawGps({ top: 641, bottom: 857, x0: 84, x1: 1199, end: "2010-09-21", dom: [387292.5, 387297.5],
  ticks: gpsTicks(387292.5), fmt: d3.format(".1f"), rightTicks: 9 },
  gps1Base, gps1MmA, gps1MmB, trend1, "①新床-新燃岳北東\u2002GPS基線長変化(cm)", 630);
drawGps({ top: 956, bottom: 1173, x0: 84, x1: 1199, end: "2010-09-21", dom: [369910, 369915],
  ticks: gpsTicks(369910), fmt: d3.format("d"), rightTicks: 5 },
  gps2Base, gps2MmA, gps2MmB, trend2, "②新床-中岳東\u2002GPS基線長変化(cm)", 940);
drawGps({ top: 1264, bottom: 1480, x0: 84, x1: 1199, end: "2010-09-21", dom: [235096, 235101],
  ticks: gpsTicks(235096), fmt: d3.format("d"), rightTicks: 5 },
  gps3Base, gps3MmA, gps3MmB, trend3, "③中岳東-新燃岳北東\u2002GPS基線長変化(cm)", 1253);
</script>
</body>
</html>
